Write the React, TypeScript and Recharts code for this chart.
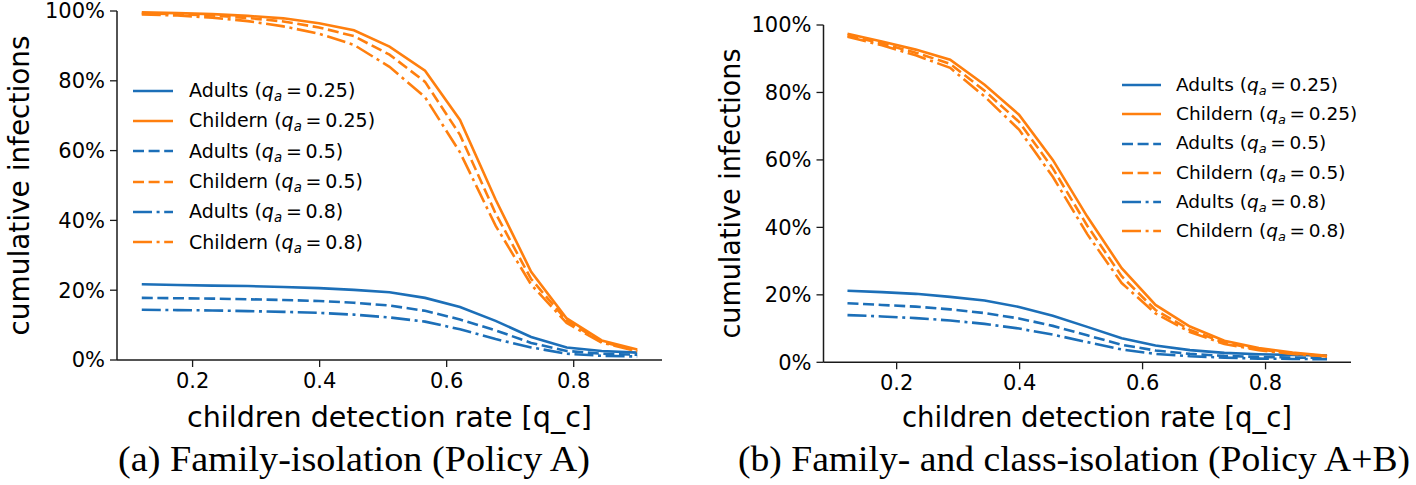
import React from 'react';
import { LineChart, Line, XAxis, YAxis, Legend } from 'recharts';

// children detection rate (x)
const qc = [0.12, 0.176, 0.231, 0.287, 0.343, 0.399, 0.454, 0.51, 0.566, 0.621, 0.677, 0.733, 0.789, 0.844, 0.9];
const xTicks = [0.2, 0.4, 0.6, 0.8];
const yTicks = [0, 20, 40, 60, 80, 100];

// Panel (a) Family-isolation (Policy A), cumulative infections in %
const aAdults025 = [21.7, 21.5, 21.3, 21.2, 20.9, 20.6, 20.1, 19.4, 17.8, 15.2, 11.2, 6.6, 3.6, 2.6, 2.1];
const aChild025 = [99.6, 99.4, 99.1, 98.6, 97.9, 96.5, 94.5, 89.8, 82.9, 68.8, 46.0, 25.3, 11.9, 5.6, 3.0];
const aAdults05 = [17.8, 17.7, 17.6, 17.4, 17.2, 16.9, 16.4, 15.6, 14.1, 11.6, 8.5, 4.9, 2.6, 1.8, 1.5];
const aChild05 = [99.3, 99.1, 98.7, 98.0, 97.0, 95.3, 92.8, 87.5, 79.7, 64.5, 42.0, 23.2, 11.3, 5.2, 2.7];
const aAdults08 = [14.4, 14.3, 14.2, 14.0, 13.8, 13.5, 13.0, 12.2, 11.0, 8.8, 6.0, 3.6, 1.8, 1.2, 1.0];
const aChild08 = [99.0, 98.7, 98.1, 97.1, 95.6, 93.5, 90.3, 84.0, 75.3, 59.5, 38.5, 21.6, 10.6, 5.0, 2.5];

// Panel (b) Family- and class-isolation (Policy A+B)
const bAdults025 = [21.2, 20.8, 20.3, 19.4, 18.3, 16.4, 13.8, 10.5, 7.1, 5.0, 3.6, 2.8, 2.4, 2.2, 2.0];
const bChild025 = [97.4, 95.1, 92.7, 89.7, 82.3, 73.4, 60.0, 43.2, 27.9, 17.0, 10.6, 6.4, 4.2, 2.9, 1.9];
const bAdults05 = [17.5, 17.0, 16.5, 15.7, 14.6, 13.0, 10.8, 8.0, 5.2, 3.5, 2.5, 1.9, 1.6, 1.4, 1.3];
const bChild05 = [96.9, 94.5, 91.8, 88.5, 80.5, 71.3, 57.5, 40.5, 25.5, 15.5, 9.6, 5.8, 3.8, 2.6, 1.8];
const bAdults08 = [14.0, 13.6, 13.1, 12.4, 11.4, 10.0, 8.2, 6.0, 3.8, 2.5, 1.8, 1.4, 1.1, 1.0, 0.9];
const bChild08 = [96.5, 94.0, 91.0, 87.3, 78.8, 69.0, 55.0, 38.0, 23.5, 14.5, 9.0, 5.4, 3.6, 2.5, 1.7];

const groups = ['Adults', 'Childern', 'Adults', 'Childern', 'Adults', 'Childern'];
const qaLabels = ['0.25', '0.25', '0.5', '0.5', '0.8', '0.8'];
const seriesKeys = ['a25', 'c25', 'a05', 'c05', 'a08', 'c08'];

const BLUE = '#1c6fb8';
const ORANGE = '#ff7f0e';
const DASHED = '11 4.6';
const DASHDOT = '19 4.6 3 4.6';
const colors = [BLUE, ORANGE, BLUE, ORANGE, BLUE, ORANGE];
const dashes = [undefined, undefined, DASHED, DASHED, DASHDOT, DASHDOT];

const buildTable = (cols: number[][]) =>
  qc.map((x, i) => {
    const row: Record<string, number> = { x };
    seriesKeys.forEach((k, j) => {
      row[k] = cols[j][i];
    });
    return row;
  });

const tableA = buildTable([aAdults025, aChild025, aAdults05, aChild05, aAdults08, aChild08]);
const tableB = buildTable([bAdults025, bChild025, bAdults05, bChild05, bAdults08, bChild08]);

const FONT = '"DejaVu Sans", sans-serif';
const INK = '#1a1a1a';

const LegendBox = ({ rowH, fontSize, handleW, gap }: { rowH: number; fontSize: number; handleW: number; gap: number }) => (
  <div style={{ fontFamily: FONT, fontSize, color: '#000' }}>
    {seriesKeys.map((k, i) => (
      <div key={k} style={{ display: 'flex', alignItems: 'center', height: rowH }}>
        <svg width={handleW} height={6} style={{ display: 'block' }}>
          <line x1={0} y1={3} x2={handleW} y2={3} stroke={colors[i]} strokeWidth={2.5} strokeDasharray={dashes[i]} />
        </svg>
        <span style={{ marginLeft: gap, whiteSpace: 'nowrap', lineHeight: 1 }}>
          {groups[i]} (
          <span style={{ fontStyle: 'italic' }}>q</span>
          <span style={{ fontStyle: 'italic', fontSize: '0.7em', position: 'relative', top: '0.3em' }}>a</span>
          <span style={{ margin: '0 0.2em' }}>=</span>
          {qaLabels[i]})
        </span>
      </div>
    ))}
  </div>
);

type PanelProps = {
  data: Record<string, number>[];
  width: number;
  height: number;
  top: number;
  right: number;
  yAxisWidth: number;
  xAxisHeight: number;
  legendLeft: number;
  legendTop: number;
  rowH: number;
  legendFont: number;
  handleW: number;
  gap: number;
};

const Panel = (p: PanelProps) => (
  <LineChart
    width={p.width}
    height={p.height}
    data={p.data}
    margin={{ top: p.top, right: p.right, bottom: 0, left: 0 }}
  >
    <XAxis
      dataKey="x"
      type="number"
      domain={[0.081, 0.939]}
      ticks={xTicks}
      interval={0}
      allowDataOverflow
      height={p.xAxisHeight}
      tickSize={7}
      tickMargin={6}
      tickFormatter={(v: number) => v.toFixed(1)}
      axisLine={{ stroke: INK, strokeWidth: 1.5 }}
      tickLine={{ stroke: INK, strokeWidth: 1.3 }}
      tick={{ fill: '#000', fontSize: 21, fontFamily: FONT }}
    />
    <YAxis
      type="number"
      domain={[0, 100]}
      ticks={yTicks}
      interval={0}
      width={p.yAxisWidth}
      tickSize={7}
      tickMargin={5}
      tickFormatter={(v: number) => `${v}%`}
      axisLine={{ stroke: INK, strokeWidth: 1.5 }}
      tickLine={{ stroke: INK, strokeWidth: 1.3 }}
      tick={{ fill: '#000', fontSize: 21, fontFamily: FONT }}
    />
    <Legend
      layout="horizontal"
      align="center"
      verticalAlign="middle"
      wrapperStyle={{ left: p.legendLeft, top: p.legendTop, width: 'auto', height: 'auto' }}
      content={() => <LegendBox rowH={p.rowH} fontSize={p.legendFont} handleW={p.handleW} gap={p.gap} />}
    />
    {seriesKeys.map((k, i) => (
      <Line
        key={k}
        dataKey={k}
        name={`${groups[i]} (q_a = ${qaLabels[i]})`}
        type="linear"
        stroke={colors[i]}
        strokeWidth={2.6}
        strokeDasharray={dashes[i]}
        dot={false}
        activeDot={false}
        isAnimationActive={false}
      />
    ))}
  </LineChart>
);

export default function App() {
  return (
    <div style={{ position: 'absolute', left: 0, top: 0, width: 1416, height: 485, background: '#fff', overflow: 'hidden' }}>
      <div style={{ position: 'absolute', left: 0, top: 0 }}>
        <Panel
          data={tableA}
          width={700}
          height={485}
          top={11}
          right={38}
          yAxisWidth={117}
          xAxisHeight={125}
          legendLeft={133}
          legendTop={75.5}
          rowH={30.3}
          legendFont={19}
          handleW={40}
          gap={16}
        />
      </div>
      <div style={{ position: 'absolute', left: 706, top: 0 }}>
        <Panel
          data={tableB}
          width={710}
          height={485}
          top={25}
          right={65}
          yAxisWidth={117.5}
          xAxisHeight={122.7}
          legendLeft={416}
          legendTop={70.3}
          rowH={29.3}
          legendFont={18.5}
          handleW={39}
          gap={15}
        />
      </div>
      <svg width={1416} height={485} style={{ position: 'absolute', left: 0, top: 0, pointerEvents: 'none' }}>
        <g fontFamily={FONT} fontSize={28} fill="#000">
          <text x={28.5} y={185.5} textAnchor="middle" transform="rotate(-90 28.5 185.5)" textLength={300} lengthAdjust="spacingAndGlyphs">
            cumulative infections
          </text>
          <text x={740} y={193.5} textAnchor="middle" transform="rotate(-90 740 193.5)" textLength={290} lengthAdjust="spacingAndGlyphs">
            cumulative infections
          </text>
          <text x={389.5} y={427} textAnchor="middle" textLength={405} lengthAdjust="spacingAndGlyphs">
            children detection rate [q_c]
          </text>
          <text x={1097} y={427} textAnchor="middle" textLength={390} lengthAdjust="spacingAndGlyphs">
            children detection rate [q_c]
          </text>
        </g>
        <g fontFamily='"Liberation Serif", serif' fontSize={35} fill="#000">
          <text x={118} y={471} textLength={472} lengthAdjust="spacingAndGlyphs">
            (a) Family-isolation (Policy A)
          </text>
          <text x={738} y={471} textLength={672} lengthAdjust="spacingAndGlyphs">
            (b) Family- and class-isolation (Policy A+B)
          </text>
        </g>
      </svg>
    </div>
  );
}
